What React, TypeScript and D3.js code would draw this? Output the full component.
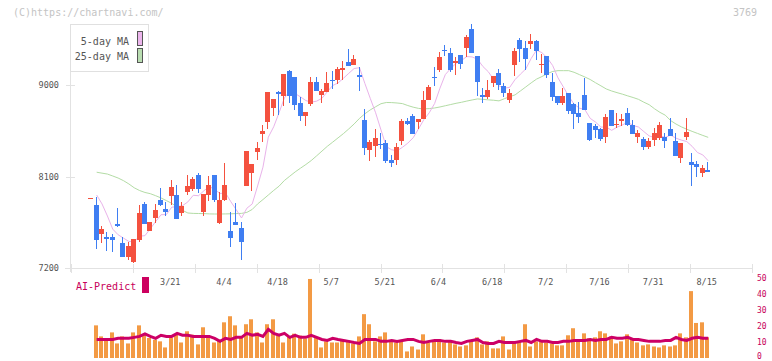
import React from 'react';
import * as d3 from 'd3';

// daily candles, index 0 .. 115
const opens = [
  7890, 7820, 7537, 7505, 7505, 7633, 7449, 7311, 7262, 7476, 7830, 7564, 7695, 7869, 7781, 7908,
  7918, 7744, 7948, 7977, 8115, 7751, 7918, 8115, 7640, 7869, 7564, 7653, 7594, 8007, 8135, 8341,
  8519, 8637, 8774, 8932, 8892, 9138, 9079, 8824, 8696, 8814, 9030, 8902, 8932, 9050, 9050, 9148,
  9227, 9198, 9099, 8656, 8361, 8400, 8420, 8430, 8263, 8263, 8450, 8646, 8696, 8637, 8666, 8853,
  9079, 9148, 9345, 9316, 9217, 9296, 9365, 9552, 9286, 8902, 8883, 9020, 9119, 8991, 8853, 9198,
  9444, 9365, 9404, 9434, 9198, 9286, 9030, 8892, 8824, 8922, 8814, 8725, 8902, 8627, 8597, 8568,
  8489, 8755, 8607, 8646, 8725, 8607, 8489, 8469, 8391, 8460, 8479, 8489, 8568, 8450, 8282, 8489,
  8243, 8223, 8135, 8164,
];
const highs = [
  7890, 7901, 7613, 7557, 7537, 7793, 7508, 7459, 7485, 7820, 7852, 7653, 7830, 7987, 7849, 8066,
  8017, 7852, 8115, 8098, 8132, 7928, 8105, 8115, 7948, 8233, 7751, 7840, 7653, 8351, 8223, 8440,
  8607, 8932, 8863, 8942, 9109, 9148, 9079, 8883, 8735, 9079, 9079, 8961, 9129, 9138, 9178, 9237,
  9355, 9296, 9178, 8765, 8460, 8568, 8528, 8460, 8312, 8430, 8666, 8676, 8715, 8666, 8942, 9001,
  9178, 9325, 9394, 9365, 9276, 9296, 9493, 9601, 9286, 8971, 9050, 9089, 9158, 9020, 8961, 9365,
  9463, 9434, 9503, 9444, 9306, 9286, 9119, 8892, 8971, 8922, 8824, 8833, 9070, 8627, 8617, 8578,
  8715, 8755, 8725, 8715, 8774, 8656, 8558, 8489, 8479, 8578, 8637, 8528, 8676, 8528, 8430, 8676,
  8332, 8253, 8214, 8243,
];
const lows = [
  7890, 7387, 7446, 7367, 7357, 7606, 7311, 7279, 7252, 7459, 7636, 7564, 7640, 7813, 7712, 7820,
  7682, 7715, 7918, 7958, 7935, 7715, 7862, 7849, 7633, 7859, 7407, 7623, 7279, 8007, 7958, 8263,
  8440, 8568, 8696, 8706, 8794, 8824, 8755, 8646, 8597, 8794, 8942, 8824, 8932, 8961, 9011, 9050,
  9188, 9198, 8942, 8312, 8253, 8292, 8371, 8233, 8194, 8214, 8410, 8607, 8519, 8568, 8666, 8853,
  8991, 9129, 9286, 9129, 9099, 9158, 9276, 9316, 8892, 8824, 8863, 8981, 8952, 8883, 8824, 9089,
  9227, 9148, 9355, 9247, 9119, 9070, 8843, 8804, 8804, 8715, 8568, 8627, 8755, 8450, 8479, 8450,
  8430, 8597, 8578, 8597, 8597, 8519, 8430, 8361, 8371, 8400, 8460, 8381, 8499, 8302, 8233, 8460,
  8007, 8095, 8095, 8145,
];
const closes = [
  7890, 7475, 7584, 7488, 7475, 7613, 7311, 7416, 7485, 7741, 7636, 7653, 7771, 7820, 7751, 7997,
  7682, 7813, 8007, 8076, 7977, 7928, 8017, 7869, 7869, 8017, 7495, 7623, 7456, 8351, 8223, 8381,
  8548, 8932, 8863, 8912, 9109, 8892, 8804, 8696, 8735, 9030, 8942, 8942, 9020, 9040, 9158, 9168,
  9188, 9257, 9079, 8381, 8440, 8479, 8410, 8253, 8233, 8391, 8646, 8617, 8519, 8666, 8853, 8981,
  9070, 9276, 9335, 9148, 9237, 9207, 9473, 9316, 9030, 8883, 8952, 9089, 9001, 8922, 8922, 9335,
  9355, 9257, 9434, 9335, 9207, 9099, 8883, 8824, 8892, 8745, 8715, 8686, 8755, 8460, 8558, 8469,
  8686, 8597, 8617, 8666, 8607, 8519, 8528, 8391, 8450, 8528, 8607, 8450, 8499, 8302, 8430, 8538,
  8214, 8194, 8184, 8145,
];
const ma5 = [
  null, 7918, 7830, 7712, 7582, 7527, 7494, 7461, 7460, 7513, 7518, 7586, 7657, 7724, 7726, 7798,
  7804, 7813, 7850, 7915, 7911, 7960, 8001, 7973, 7932, 7940, 7853, 7775, 7692, 7788, 7830, 8007,
  8192, 8487, 8589, 8727, 8873, 8942, 8916, 8883, 8847, 8831, 8841, 8869, 8934, 8995, 9020, 9066,
  9115, 9162, 9170, 9015, 8869, 8727, 8558, 8393, 8363, 8353, 8387, 8428, 8481, 8568, 8660, 8727,
  8818, 8969, 9103, 9162, 9213, 9241, 9280, 9276, 9253, 9182, 9131, 9054, 8991, 8969, 8977, 9054,
  9107, 9158, 9261, 9343, 9318, 9266, 9192, 9070, 8981, 8889, 8812, 8772, 8759, 8672, 8635, 8586,
  8586, 8554, 8585, 8607, 8635, 8601, 8587, 8542, 8499, 8483, 8501, 8485, 8507, 8477, 8458, 8444,
  8397, 8336, 8312, 8255,
];
const ma25 = [
  null, 8142, 8133, 8124, 8105, 8085, 8059, 8027, 7989, 7962, 7943, 7931, 7911, 7889, 7863, 7836,
  7800, 7767, 7741, 7737, 7736, 7735, 7732, 7731, 7731, 7732, 7733, 7735, 7737, 7747, 7776, 7830,
  7873, 7918, 7963, 8005, 8061, 8103, 8145, 8182, 8218, 8257, 8303, 8350, 8397, 8438, 8480, 8522,
  8568, 8617, 8672, 8717, 8755, 8786, 8816, 8828, 8827, 8823, 8817, 8798, 8782, 8770, 8765, 8768,
  8774, 8784, 8796, 8808, 8820, 8830, 8842, 8853, 8863, 8859, 8854, 8850, 8844, 8865, 8885, 8903,
  8942, 8981, 9021, 9058, 9083, 9111, 9133, 9141, 9141, 9141, 9125, 9102, 9079, 9054, 9022, 8992,
  8961, 8941, 8925, 8910, 8893, 8877, 8859, 8831, 8806, 8766, 8731, 8703, 8650, 8616, 8588, 8565,
  8544, 8524, 8504, 8485,
];
const volumes = [
  0, 20.4, 13.5, 12.5, 16.0, 9.1, 13.5, 9.1, 16.0, 20.4, 14.6, 12.5, 11.4, 10.4, 6.6, 12.5,
  14.6, 9.7, 16.7, 14.6, 8.5, 19.2, 13.5, 9.7, 11.4, 22.3, 26.1, 20.4, 12.5, 21.1, 24.2, 16.0,
  9.7, 21.1, 24.2, 14.2, 9.7, 13.5, 15.2, 14.0, 12.1, 49.4, 12.5, 6.6, 10.4, 9.7, 9.7, 11.4,
  10.4, 9.1, 13.5, 27.4, 21.1, 10.4, 13.5, 16.0, 10.4, 9.7, 10.4, 4.1, 7.2, 5.3, 14.8, 9.7,
  10.4, 11.6, 9.7, 10.4, 8.5, 7.2, 7.9, 10.4, 12.9, 8.5, 10.4, 6.0, 6.0, 13.5, 5.3, 9.7,
  10.4, 21.1, 7.2, 10.4, 10.4, 9.7, 9.1, 7.9, 7.9, 14.2, 18.6, 10.4, 15.4, 12.3, 12.9, 16.7,
  15.4, 13.5, 9.1, 10.4, 14.8, 12.3, 9.7, 7.9, 8.5, 7.2, 6.6, 7.9, 7.2, 7.9, 15.4, 12.9,
  41.8, 21.9, 22.3, 12.9,
];
const predict = [
  null, 11.6, 11.6, 11.6, 11.6, 12.3, 12.3, 12.3, 12.9, 13.5, 15.0, 13.5, 12.3, 14.2, 13.5, 13.5,
  15.4, 14.2, 14.2, 13.5, 13.5, 13.5, 13.5, 12.3, 10.4, 12.3, 11.6, 12.9, 12.9, 15.4, 14.2, 14.8,
  13.5, 17.9, 15.4, 14.2, 15.4, 12.9, 14.2, 12.9, 12.9, 14.2, 12.9, 11.6, 11.0, 12.3, 11.6, 11.0,
  10.4, 9.7, 9.1, 11.6, 11.6, 11.6, 10.4, 10.4, 11.0, 10.4, 11.0, 11.6, 11.6, 10.4, 9.7, 10.4,
  11.0, 11.0, 10.4, 10.4, 9.7, 9.1, 10.4, 11.0, 11.6, 9.7, 9.1, 9.1, 10.4, 9.7, 9.7, 9.7,
  10.4, 11.0, 9.7, 11.6, 10.4, 10.4, 9.7, 9.7, 10.4, 10.4, 11.0, 11.0, 11.0, 11.6, 11.0, 11.6,
  11.6, 12.9, 12.3, 12.3, 12.9, 11.6, 11.6, 11.0, 10.4, 10.4, 10.4, 11.0, 11.0, 12.9, 11.6, 11.0,
  12.3, 12.9, 12.3, 12.3,
];

const priceTicks = [7200, 8100, 9000];
const volTicks = [0, 10, 20, 30, 40, 50];
const dateLabels = ['3/21', '4/4', '4/18', '5/7', '5/21', '6/4', '6/18', '7/2', '7/16', '7/31', '8/15'];
const dateIdx = [15, 25, 35, 45, 55, 65, 75, 85, 95, 105, 115];

const UP = '#f4513f';
const DOWN = '#3f7ef2';
const MONO = '"DejaVu Sans Mono", monospace';

export default function App() {
  const x = d3.scaleLinear().domain([0, closes.length - 1]).range([91.3, 708.2]);
  const y = d3.scaleLinear().domain([7200, 9000]).range([268, 85]);
  const yv = d3.scaleLinear().domain([0, 50]).range([358, 278]);
  // evenly spaced grid ticks along the time axis
  const grid = d3.scaleLinear().domain([0, 11]).range([71, 752]);

  const priceLine = d3.line<number | null>()
    .defined(d => d != null)
    .x((d, i) => x(i))
    .y(d => y(d as number));
  const volLine = d3.line<number | null>()
    .defined(d => d != null)
    .x((d, i) => x(i))
    .y(d => yv(d as number));

  return (
    <svg width={772} height={361} style={{ position: 'absolute', left: 0, top: 0, background: '#fff' }}>
      <text x={13} y={16} fontFamily={MONO} fontSize={10} fill="#c4c4c4">(C)https://chartnavi.com/</text>
      <text x={757} y={16} fontFamily={MONO} fontSize={10} fill="#c4c4c4" textAnchor="end">3769</text>

      {/* axes */}
      <g stroke="#e2e2e2" strokeWidth={1}>
        <line x1={70.5} x2={70.5} y1={24} y2={272} />
        <line x1={65} x2={752} y1={268.5} y2={268.5} />
        {d3.range(12).map(k => (
          <line key={k} x1={Math.round(grid(k)) + 0.5} x2={Math.round(grid(k)) + 0.5} y1={264} y2={273} />
        ))}
        {priceTicks.map(t => (
          <line key={t} x1={66} x2={75} y1={Math.round(y(t)) + 0.5} y2={Math.round(y(t)) + 0.5} />
        ))}
      </g>
      {priceTicks.map(t => (
        <text key={t} x={59} y={y(t) + 3} textAnchor="end" fontFamily={MONO} fontSize={8.5} fill="#555">{t}</text>
      ))}
      {dateLabels.map((d, k) => (
        <text key={d} x={x(dateIdx[k]) - 1.5} y={285} textAnchor="middle" fontFamily={MONO} fontSize={8.5} fill="#555">{d}</text>
      ))}

      {/* moving averages */}
      <path d={priceLine(ma25) || ''} fill="none" stroke="#b3dca5" strokeWidth={1} />
      <path d={priceLine(ma5) || ''} fill="none" stroke="#e9b3ea" strokeWidth={1} />

      {/* candles */}
      {closes.map((c, i) => {
        const o = opens[i];
        const cx = Math.round(x(i));
        const col = c >= o ? UP : DOWN;
        const top = Math.round(y(Math.max(o, c)));
        const bot = Math.round(y(Math.min(o, c)));
        return (
          <g key={i}>
            <rect x={cx - 1} y={Math.round(y(highs[i]))} width={1} height={Math.max(1, Math.round(y(lows[i])) - Math.round(y(highs[i])))} fill={col} />
            <rect x={cx - 3} y={top} width={5} height={Math.max(1, bot - top)} fill={col} />
          </g>
        );
      })}

      {/* legend */}
      <rect x={70.5} y={24.5} width={78} height={47} fill="#fff" stroke="#e0e0e0" />
      <text x={129} y={45} textAnchor="end" fontFamily={MONO} fontSize={10} fill="#555">5-day MA</text>
      <text x={129} y={60} textAnchor="end" fontFamily={MONO} fontSize={10} fill="#555">25-day MA</text>
      <rect x={137.5} y={31.5} width={5} height={14} fill="#ecb5ec" stroke="#555" />
      <rect x={137.5} y={48.5} width={5} height={14} fill="#b9ddb1" stroke="#555" />

      {/* AI predict panel */}
      <text x={76} y={290} fontFamily={MONO} fontSize={10} fill="#c8005a">AI-Predict</text>
      <rect x={142} y={277} width={7} height={16} fill="#cc005f" />
      {volumes.map((v, i) => (v > 0 ? (
        <rect key={i} x={Math.round(x(i)) - 3} y={yv(v)} width={4} height={yv(0) - yv(v)} fill="#f39a44" />
      ) : null))}
      <path d={volLine(predict) || ''} fill="none" stroke="#cc0066" strokeWidth={3} />
      {volTicks.map(t => (
        <text key={t} x={757} y={Math.min(yv(t) + 3, 358.5)} fontFamily={MONO} fontSize={8} fill="#c8005a">{t}</text>
      ))}
    </svg>
  );
}
